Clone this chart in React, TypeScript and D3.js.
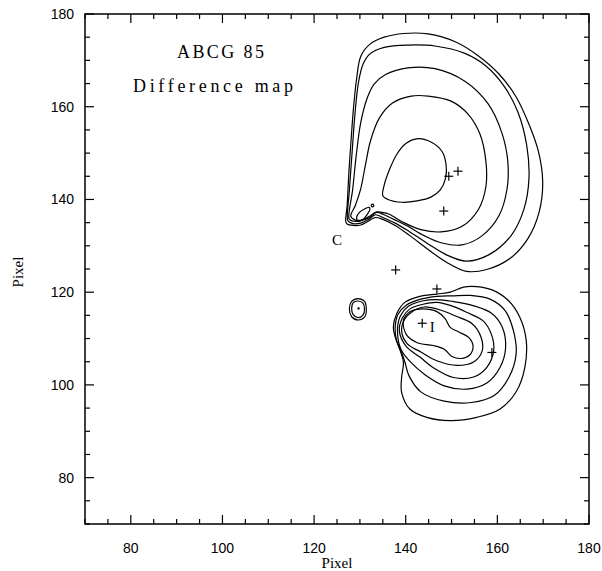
import React from "react";
import * as d3 from "d3";

const W = 602;
const H = 571;
const X_DOMAIN: [number, number] = [70, 180];
const Y_DOMAIN: [number, number] = [70, 180];
const X_LABELS = [80, 100, 120, 140, 160, 180];
const Y_LABELS = [80, 100, 120, 140, 160, 180];
const MINOR_STEP = 5;
const MAJOR_STEP = 20;

// Northern structure: nested isophotes sharing the tip near C
const north1: [number, number][] = [
  [126.9, 135.3], [127.2, 138.5], [127.6, 145.9], [128.1, 153.2], [128.6, 159.7],
  [129.3, 166.2], [130.2, 170.9], [132.2, 173.5], [135.3, 175.0], [139.6, 175.8],
  [144.9, 175.7], [150.8, 174.0], [155.8, 171.0], [160.4, 167.0], [164.1, 162.1],
  [166.9, 156.2], [169.0, 150.2], [169.9, 143.7], [169.1, 137.2], [166.7, 131.6],
  [162.8, 127.3], [157.7, 124.9], [153.2, 124.5], [149.0, 126.4], [144.9, 129.2],
  [140.9, 132.2], [137.7, 134.4], [135.0, 135.7], [133.3, 136.1], [131.8, 135.3],
  [130.2, 134.5], [128.5, 134.4], [127.2, 134.7],
];
const north2: [number, number][] = [
  [127.3, 135.6], [127.7, 142.0], [128.3, 150.2], [128.9, 158.2], [129.7, 165.3],
  [130.7, 169.2], [132.2, 171.4], [135.3, 172.8], [140.5, 173.3], [146.4, 173.1],
  [152.9, 171.5], [157.5, 168.8], [161.5, 164.4], [164.5, 158.8], [166.4, 151.7],
  [166.9, 144.6], [165.8, 137.9], [163.0, 132.2], [158.2, 128.1], [153.2, 126.7],
  [149.0, 128.0], [144.9, 130.4], [140.9, 133.0], [137.7, 134.9], [135.0, 136.1],
  [133.4, 136.7], [131.9, 135.7], [130.2, 134.9], [128.5, 134.8], [127.6, 135.2],
];
const north3: [number, number][] = [
  [127.6, 135.9], [128.4, 142.0], [129.2, 149.5], [130.2, 156.7], [131.6, 161.9],
  [133.1, 164.9], [135.7, 167.0], [140.5, 168.4], [146.4, 168.2], [152.9, 165.5],
  [158.0, 160.6], [161.0, 154.3], [162.3, 148.0], [162.1, 142.2], [160.4, 136.6],
  [156.7, 132.2], [152.3, 130.2], [147.9, 130.6], [144.0, 132.2], [140.5, 134.2],
  [137.4, 135.7], [135.3, 136.7], [133.6, 137.2], [132.1, 136.1], [130.2, 135.4],
  [128.7, 135.3], [128.0, 135.5],
];
const north4: [number, number][] = [
  [128.0, 136.4], [129.0, 138.7], [130.1, 142.0], [131.2, 147.4], [132.3, 152.6],
  [134.2, 157.5], [137.1, 160.8], [141.2, 162.3], [144.9, 162.3], [149.9, 161.2],
  [153.6, 158.4], [156.2, 154.1], [157.5, 148.2], [157.5, 142.8], [155.9, 137.9],
  [152.3, 134.2], [147.7, 133.0], [143.3, 133.5], [139.4, 135.1], [136.4, 136.8],
  [134.8, 137.2], [133.5, 137.3], [132.3, 136.5], [130.5, 135.6], [128.9, 135.6],
];
const north5: [number, number][] = [
  [142.7, 153.1], [145.7, 152.3], [147.9, 150.4], [148.8, 147.6], [148.7, 144.6],
  [147.5, 142.0], [145.5, 140.5], [142.5, 139.7], [139.2, 139.4], [136.1, 140.0],
  [135.0, 140.8], [135.3, 143.1], [136.4, 146.3], [138.1, 149.8], [140.1, 152.1],
];
const northKnot: [number, number][] = [
  [129.6, 135.3], [129.3, 136.2], [129.9, 137.2], [130.9, 137.9], [132.0, 138.3],
  [132.2, 137.9], [131.6, 136.8], [130.6, 135.6],
];
const northSpeck: [number, number] = [132.75, 138.7];

// Southern structure around I
const south1: [number, number][] = [
  [138.0, 115.3], [139.8, 117.8], [143.1, 119.1], [146.8, 119.6], [149.7, 120.0],
  [152.6, 121.1], [155.5, 121.2], [159.1, 120.4], [162.4, 118.2], [164.9, 114.6],
  [166.3, 109.6], [166.0, 103.8], [164.2, 98.7], [160.6, 94.8], [155.5, 93.0],
  [149.7, 92.3], [144.6, 93.0], [140.9, 94.8], [139.1, 98.4], [139.1, 101.6],
  [139.5, 104.9], [138.8, 107.4], [137.7, 110.3], [137.3, 112.4],
];
const south2: [number, number][] = [
  [137.7, 112.4], [138.3, 115.2], [140.1, 117.2], [143.3, 118.5], [146.8, 119.1],
  [150.1, 119.2], [154.0, 119.3], [158.4, 118.5], [161.7, 116.0], [163.5, 111.7],
  [164.1, 106.7], [162.5, 101.6], [159.3, 97.7], [154.3, 96.2], [148.4, 96.5],
  [143.3, 98.5], [140.7, 102.0], [139.8, 105.0], [139.0, 107.2], [138.0, 109.6],
];
const south3: [number, number][] = [
  [138.2, 111.7], [138.8, 114.8], [140.5, 116.9], [143.6, 118.1], [146.8, 118.4],
  [150.3, 118.0], [154.7, 117.1], [158.8, 115.4], [161.1, 112.4], [161.8, 108.0],
  [160.6, 103.8], [157.7, 100.4], [153.4, 99.1], [148.4, 99.8], [144.2, 102.2],
  [141.2, 104.8], [139.0, 107.6],
];
const south4: [number, number][] = [
  [138.6, 111.7], [139.3, 114.5], [140.9, 116.4], [143.8, 117.4], [146.8, 117.8],
  [149.9, 117.1], [153.4, 115.6], [156.9, 113.8], [158.7, 110.9], [159.2, 107.4],
  [157.7, 103.8], [154.8, 101.7], [150.4, 101.6], [146.2, 103.6], [143.1, 106.0],
  [140.1, 108.3],
];
const south5: [number, number][] = [
  [139.1, 111.7], [139.8, 114.2], [141.4, 115.8], [144.0, 116.8], [147.7, 116.1],
  [151.0, 114.8], [154.5, 113.2], [156.4, 110.4], [156.7, 107.4], [154.9, 105.0],
  [151.2, 104.2], [146.8, 105.2], [143.3, 107.1], [140.3, 108.9],
];
const south6: [number, number][] = [
  [139.5, 113.9], [140.9, 115.8], [143.8, 116.4], [146.8, 115.8], [148.6, 114.3],
  [149.7, 112.4], [151.6, 111.4], [153.8, 110.2], [154.7, 108.3], [153.9, 106.4],
  [152.1, 105.7], [150.0, 106.2], [148.4, 107.7], [146.0, 108.5], [142.5, 109.1],
  [140.1, 110.9],
];
// Isolated compact source west of the southern clump
const knotOuter: [number, number][] = [
  [129.6, 118.6], [131.0, 118.0], [131.4, 116.4], [131.0, 114.6], [129.6, 114.0],
  [128.2, 114.7], [127.7, 116.4], [128.2, 118.0],
];
const knotInner: [number, number][] = [
  [129.6, 118.1], [130.7, 117.6], [131.0, 116.4], [130.7, 115.1], [129.6, 114.5],
  [128.5, 115.2], [128.2, 116.4], [128.5, 117.7],
];
const knotCentre: [number, number] = [129.7, 116.5];

const CONTOURS = [
  north1, north2, north3, north4, north5, northKnot,
  south1, south2, south3, south4, south5, south6,
  knotOuter, knotInner,
];

// Galaxy positions
const GALAXIES: [number, number][] = [
  [149.4, 145.0], [151.4, 146.1], [148.3, 137.5], [137.8, 124.8],
  [146.8, 120.7], [143.6, 113.3], [158.8, 107.0],
];

const ANNOTATIONS = [
  { text: "C", x: 125.0, y: 130.1 },
  { text: "I", x: 145.8, y: 111.5 },
];

const TITLE_LINES = ["ABCG 85", "Difference map"];

export default function App() {
  const left = 85;
  const right = 589;
  const top = 14;
  const bottom = 524;

  const x = d3.scaleLinear().domain(X_DOMAIN).range([left, right]);
  const y = d3.scaleLinear().domain(Y_DOMAIN).range([bottom, top]);

  const line = d3
    .line<[number, number]>()
    .x((d) => x(d[0]))
    .y((d) => y(d[1]))
    .curve(d3.curveCatmullRomClosed.alpha(0.5));

  const ticks = d3.range(X_DOMAIN[0], X_DOMAIN[1] + 0.001, MINOR_STEP);
  const isMajor = (v: number) => Math.abs(v % MAJOR_STEP) < 1e-6;
  const majorLen = 9;
  const minorLen = 5;

  const serif = "'Liberation Serif', 'DejaVu Serif', serif";
  const sans = "'Liberation Sans', Arial, sans-serif";

  const cross = 4.5;

  return (
    <svg
      width={W}
      height={H}
      viewBox={`0 0 ${W} ${H}`}
      style={{ position: "absolute", left: 0, top: 0, background: "#fff" }}
    >
      <rect x={0} y={0} width={W} height={H} fill="#fff" />

      {/* tick marks on all four sides, pointing inward */}
      <g stroke="#000" strokeWidth={1.2}>
        {ticks.map((v) => {
          const len = isMajor(v) ? majorLen : minorLen;
          const px = x(v);
          const py = y(v);
          return (
            <g key={`t${v}`}>
              <line x1={px} x2={px} y1={bottom} y2={bottom - len} />
              <line x1={px} x2={px} y1={top} y2={top + len} />
              <line x1={left} x2={left + len} y1={py} y2={py} />
              <line x1={right} x2={right - len} y1={py} y2={py} />
            </g>
          );
        })}
      </g>

      <rect
        x={left}
        y={top}
        width={right - left}
        height={bottom - top}
        fill="none"
        stroke="#000"
        strokeWidth={1.5}
      />

      {/* tick labels */}
      <g fontFamily={sans} fontSize={14} fill="#000">
        {X_LABELS.map((v) => (
          <text key={`xl${v}`} x={x(v)} y={553} textAnchor="middle">
            {v}
          </text>
        ))}
        {Y_LABELS.map((v) => (
          <text key={`yl${v}`} x={74} y={y(v) + 5} textAnchor="end">
            {v}
          </text>
        ))}
      </g>

      {/* axis titles */}
      <text x={337} y={568} textAnchor="middle" fontFamily={serif} fontSize={15}>
        Pixel
      </text>
      <text
        transform={`translate(23, 272) rotate(-90)`}
        textAnchor="middle"
        fontFamily={serif}
        fontSize={15}
      >
        Pixel
      </text>

      {/* plot title */}
      <text
        x={177}
        y={57.7}
        fontFamily={serif}
        fontSize={18}
        textLength={87}
        lengthAdjust="spacing"
      >
        {TITLE_LINES[0]}
      </text>
      <text
        x={133}
        y={91.7}
        fontFamily={serif}
        fontSize={18}
        textLength={160}
        lengthAdjust="spacing"
      >
        {TITLE_LINES[1]}
      </text>

      {/* contours */}
      <g fill="none" stroke="#000" strokeWidth={1.2} strokeLinejoin="round">
        {CONTOURS.map((c, i) => (
          <path key={`c${i}`} d={line(c) ?? ""} />
        ))}
        <circle cx={x(northSpeck[0])} cy={y(northSpeck[1])} r={1.3} />
      </g>
      <circle cx={x(knotCentre[0])} cy={y(knotCentre[1])} r={1.2} fill="#000" />

      {/* galaxy crosses */}
      <g stroke="#000" strokeWidth={1.2}>
        {GALAXIES.map((g, i) => {
          const cx = x(g[0]);
          const cy = y(g[1]);
          return (
            <g key={`g${i}`}>
              <line x1={cx - cross} x2={cx + cross} y1={cy} y2={cy} />
              <line x1={cx} x2={cx} y1={cy - cross} y2={cy + cross} />
            </g>
          );
        })}
      </g>

      {/* substructure labels */}
      <g fontFamily={serif} fontSize={15} fill="#000">
        {ANNOTATIONS.map((a) => (
          <text key={a.text} x={x(a.x)} y={y(a.y)} textAnchor="middle">
            {a.text}
          </text>
        ))}
      </g>
    </svg>
  );
}
